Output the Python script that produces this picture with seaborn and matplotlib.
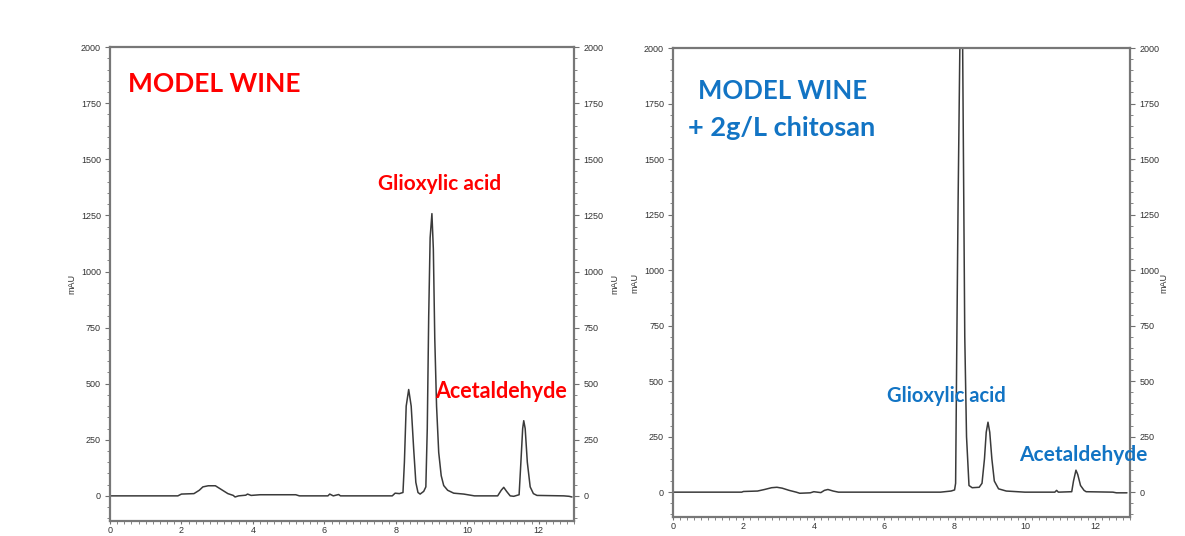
import numpy as np
import pandas as pd
import seaborn as sns
from matplotlib import pyplot as plt
import matplotlib.ticker as mtick

# retention time (min) and absorbance (mAU)
wine_time = [0.0, 1.9, 2.0, 2.35, 2.5, 2.6, 2.75, 2.95, 3.1, 3.3, 3.45, 3.5, 3.6,
             3.8, 3.85, 3.95, 4.2, 5.2, 5.3, 6.1, 6.15, 6.25, 6.4, 6.45, 7.9,
             7.98, 8.1, 8.2, 8.24, 8.29, 8.36, 8.43, 8.5, 8.56, 8.62, 8.68, 8.78,
             8.84, 8.88, 8.92, 8.96, 9.01, 9.05, 9.09, 9.14, 9.2, 9.27, 9.34,
             9.45, 9.62, 9.9, 10.2, 10.85, 10.95, 11.02, 11.1, 11.2, 11.3,
             11.45, 11.5, 11.55, 11.58, 11.62, 11.68, 11.76, 11.85, 11.95,
             12.7, 12.85, 12.93]
wine_mau = [0, 0, 8, 10, 25, 40, 45, 45, 30, 10, 2, -5, 0,
            3, 8, 2, 5, 5, 0, 0, 8, 0, 6, 0, 0,
            12, 10, 15, 150, 400, 474, 400, 208, 60, 15, 8, 20,
            40, 300, 800, 1150, 1258, 1100, 700, 400, 194, 90, 46,
            25, 12, 8, 0, 0, 25, 38, 20, 0, -2,
            5, 150, 300, 335, 300, 150, 40, 10, 2,
            0, -2, -5]

chitosan_time = [0.0, 1.95, 2.0, 2.4, 2.6, 2.8, 2.95, 3.1, 3.3, 3.5, 3.6, 3.9,
                 4.0, 4.1, 4.2, 4.3, 4.4, 4.55, 4.7, 7.6, 7.9, 8.0, 8.03, 8.06,
                 8.1, 8.15, 8.19, 8.23, 8.29, 8.34, 8.41, 8.5, 8.7, 8.78, 8.85,
                 8.9, 8.95, 9.0, 9.06, 9.13, 9.25, 9.47, 10.0, 10.85, 10.9,
                 10.95, 11.33, 11.38, 11.45, 11.5, 11.58, 11.68, 11.74, 12.5,
                 12.6, 12.9]
chitosan_mau = [0, 0, 3, 5, 12, 20, 22, 18, 8, 0, -5, -3,
                2, 0, -2, 8, 12, 5, 0, 0, 5, 10, 40, 600,
                1300, 2000, 2400, 2000, 700, 250, 30, 20, 22, 40, 150,
                270, 315, 270, 150, 50, 15, 5, 0, 0, 8,
                0, 2, 50, 99, 80, 30, 8, 2, 0,
                -3, -3]

RED = "#FF0000"
BLUE = "#1274C4"

sns.set_style("white")
plt.rcParams["font.family"] = ["Liberation Sans", "DejaVu Sans"]

fig = plt.figure(figsize=(11.85, 5.36), dpi=100)
ax1 = fig.add_axes([0.0928, 0.028, 0.392, 0.884])
ax2 = fig.add_axes([0.568, 0.0354, 0.386, 0.875])

panels = [
    (ax1, wine_time, wine_mau, 1.086),
    (ax2, chitosan_time, chitosan_mau, 1.072),
]

for ax, t, mau, right_lab in panels:
    df = pd.DataFrame({"time": t, "mAU": mau})
    sns.lineplot(data=df, x="time", y="mAU", ax=ax, color="#3a3a3a",
                 linewidth=1.1, sort=False)
    ax.set_xlim(0, 13)
    ax.set_ylim(-112, 2000)
    ax.xaxis.set_major_locator(mtick.MultipleLocator(2))
    ax.xaxis.set_minor_locator(mtick.MultipleLocator(0.2))
    ax.yaxis.set_major_locator(mtick.MultipleLocator(250))
    ax.yaxis.set_minor_locator(mtick.MultipleLocator(50))
    ax.tick_params(which="both", left=True, right=True, bottom=True,
                   labelright=True, direction="out", color="#707070",
                   labelsize=6.5, labelcolor="#333333", pad=3)
    ax.tick_params(which="major", length=3.5, width=0.8)
    ax.tick_params(which="minor", length=2, width=0.6)
    ax.tick_params(axis="x", which="major", length=2.5, pad=1)
    for s in ax.spines.values():
        s.set_color("#777777")
        s.set_linewidth(1.6)
    ax.set_xlabel("")
    ax.set_ylabel("mAU", fontsize=6.5, color="#333333", labelpad=3)
    ax.text(right_lab, 0.5, "mAU", transform=ax.transAxes, rotation=90,
            ha="center", va="center", fontsize=6.5, color="#333333")

title_font = ["Lato", "DejaVu Sans"]

ax1.text(0.5, 1836, "MODEL WINE", color=RED, fontsize=19, fontweight="bold",
         family=title_font, ha="left", va="center")
ax1.text(7.51, 1392, "Glioxylic acid", color=RED, fontsize=15,
         fontweight="bold", family=title_font, ha="left", va="center")
ax1.text(9.1, 466, "Acetaldehyde", color=RED, fontsize=15.5,
         fontweight="bold", family=title_font, ha="left", va="center")

ax2.text(0.71, 1806, "MODEL WINE", color=BLUE, fontsize=18.5,
         fontweight="bold", family=title_font, ha="left", va="center")
ax2.text(0.43, 1640, "+ 2g/L chitosan", color=BLUE, fontsize=19.5,
         fontweight="bold", family=title_font, ha="left", va="center")
ax2.text(6.07, 432, "Glioxylic acid", color=BLUE, fontsize=14.5,
         fontweight="bold", family=title_font, ha="left", va="center")
ax2.text(9.84, 167, "Acetaldehyde", color=BLUE, fontsize=15,
         fontweight="bold", family=title_font, ha="left", va="center")

fig.savefig("out.png", dpi=100)
